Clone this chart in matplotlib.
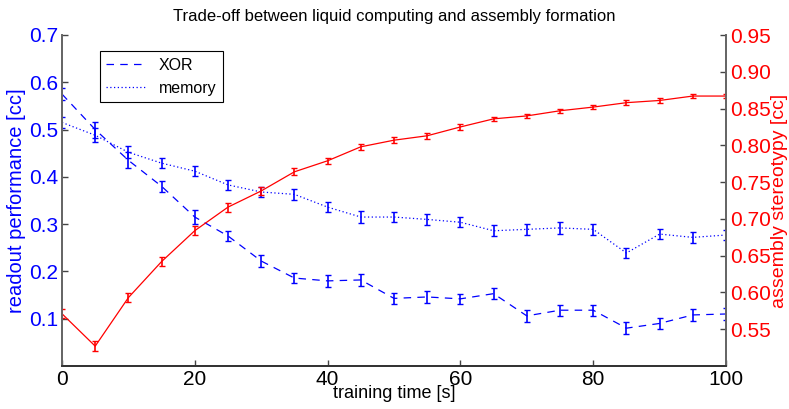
import matplotlib
matplotlib.use("Agg")
import matplotlib.pyplot as plt
from matplotlib.ticker import FormatStrFormatter

plt.rcParams['font.family'] = ['Liberation Sans', 'DejaVu Sans']

t = [0, 5, 10, 15, 20, 25, 30, 35, 40, 45, 50, 55, 60, 65, 70, 75, 80, 85, 90, 95, 100]

xor = [0.575, 0.50, 0.435, 0.38, 0.315, 0.275, 0.222, 0.186, 0.18, 0.182, 0.143, 0.146,
       0.142, 0.153, 0.106, 0.118, 0.118, 0.08, 0.09, 0.108, 0.11]
xor_err = [0.013, 0.017, 0.017, 0.012, 0.014, 0.011, 0.012, 0.01, 0.012, 0.012, 0.012, 0.012,
           0.011, 0.011, 0.012, 0.012, 0.012, 0.012, 0.011, 0.012, 0.012]

memory = [0.515, 0.488, 0.452, 0.429, 0.412, 0.383, 0.368, 0.363, 0.336, 0.315, 0.315, 0.31,
          0.304, 0.286, 0.289, 0.292, 0.289, 0.239, 0.279, 0.272, 0.277]
mem_err = [0.012, 0.015, 0.013, 0.011, 0.011, 0.01, 0.011, 0.011, 0.011, 0.012, 0.011, 0.012,
           0.011, 0.012, 0.012, 0.012, 0.011, 0.011, 0.011, 0.011, 0.011]

stereo = [0.571, 0.527, 0.593, 0.642, 0.684, 0.716, 0.738, 0.764, 0.779, 0.798, 0.807, 0.813,
          0.825, 0.836, 0.840, 0.847, 0.852, 0.858, 0.861, 0.867, 0.867]
stereo_err = [0.006, 0.007, 0.006, 0.006, 0.006, 0.006, 0.006, 0.005, 0.004, 0.004, 0.004, 0.004,
              0.004, 0.003, 0.003, 0.003, 0.003, 0.003, 0.003, 0.003, 0.003]

fig = plt.figure(figsize=(7.89, 4.09), dpi=100)
ax = fig.add_axes([62/789, 43/409, 664/789, 331/409])
ax2 = ax.twinx()

ax.errorbar(t, xor, yerr=xor_err, color='blue', ls=(0, (6, 5)), lw=0.9, capsize=2.5,
            elinewidth=1.2, label='XOR')
ax.errorbar(t, memory, yerr=mem_err, color='blue', ls=(0, (1, 2)), lw=0.9, capsize=2.5,
            elinewidth=1.2, label='memory')
ax2.errorbar(t, stereo, yerr=stereo_err, color='red', ls='-', lw=0.9, capsize=2.5,
             elinewidth=1.2)

ax.set_xlim(0, 100)
ax.set_ylim(0, 0.7)
ax2.set_ylim(0.5, 0.95)
ax.set_xticks([0, 20, 40, 60, 80, 100])
ax.set_yticks([0.1, 0.2, 0.3, 0.4, 0.5, 0.6, 0.7])
ax2.set_yticks([0.55, 0.6, 0.65, 0.7, 0.75, 0.8, 0.85, 0.9, 0.95])
ax2.yaxis.set_major_formatter(FormatStrFormatter('%.2f'))

for a in (ax, ax2):
    a.spines['top'].set_visible(False)
    for s in a.spines.values():
        s.set_color('#666666')
        s.set_linewidth(1.3)
    a.spines['bottom'].set_color('#333333')
    a.tick_params(direction='in', length=4, width=1, colors='#444444', labelsize=15, pad=3)

ax.tick_params(axis='y', labelcolor='blue')
ax.tick_params(axis='x', labelcolor='black')
ax2.tick_params(axis='y', labelcolor='red')

ax.set_xlabel('training time [s]', fontsize=13, labelpad=-3)
ax.set_ylabel('readout performance [cc]', fontsize=14.5, color='blue', labelpad=2)
ax2.set_ylabel('assembly stereotypy [cc]', fontsize=14, color='red', labelpad=0)
ax.set_title('Trade-off between liquid computing and assembly formation', fontsize=12, pad=10)

handles, labels = ax.get_legend_handles_labels()
handles = [h[0] for h in handles]
leg = ax.legend(handles, labels, loc='upper left', bbox_to_anchor=(0.045, 0.975), fontsize=11.5,
                fancybox=False, edgecolor='black', framealpha=1, handlelength=2.5)
leg.get_frame().set_linewidth(0.8)

fig.savefig('out.png', dpi=100)
